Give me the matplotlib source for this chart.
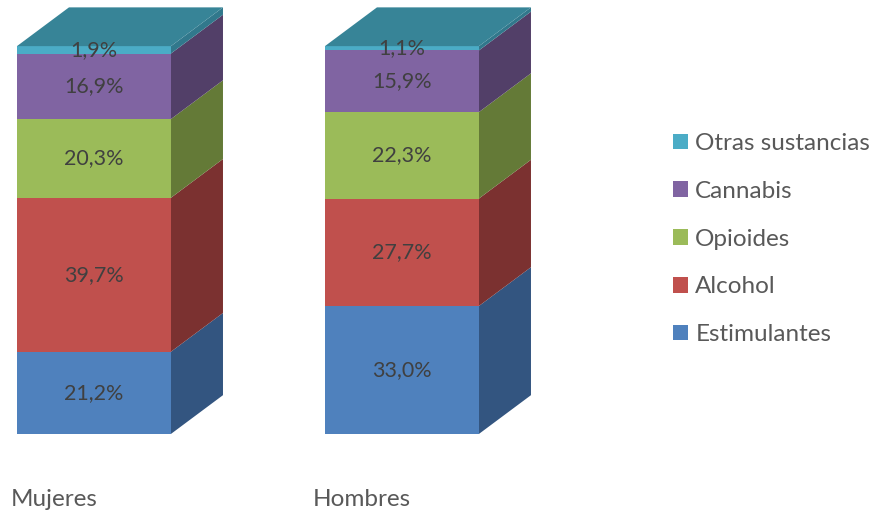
import matplotlib
matplotlib.use("Agg")
import matplotlib.pyplot as plt
from matplotlib.patches import Polygon

plt.rcParams['font.family'] = ['Lato', 'DejaVu Sans']

grupos = ['Mujeres', 'Hombres']
sustancias = ['Estimulantes', 'Alcohol', 'Opioides', 'Cannabis', 'Otras sustancias']
valores = {
    'Estimulantes': [21.2, 33.0],
    'Alcohol': [39.7, 27.7],
    'Opioides': [20.3, 22.3],
    'Cannabis': [16.9, 15.9],
    'Otras sustancias': [1.9, 1.1],
}
etiquetas = {
    'Estimulantes': ['21,2%', '33,0%'],
    'Alcohol': ['39,7%', '27,7%'],
    'Opioides': ['20,3%', '22,3%'],
    'Cannabis': ['16,9%', '15,9%'],
    'Otras sustancias': ['1,9%', '1,1%'],
}
# cara frontal, cara lateral (sombra)
colores = {
    'Estimulantes': ('#4F81BD', '#335580'),
    'Alcohol': ('#C0504D', '#7B3130'),
    'Opioides': ('#9BBB59', '#647A37'),
    'Cannabis': ('#8064A2', '#523F68'),
    'Otras sustancias': ('#4BACC6', '#31788C'),
}
color_tapa = '#378497'

ancho = 0.5
dx, dy = 0.169, 10.0  # profundidad del efecto 3D

fig = plt.figure(figsize=(8.71, 5.15), dpi=100)
ax = fig.add_axes([0, 0, 1, 1])
ax.set_xlim(-0.305, 2.523)
ax.set_ylim(-20.9, 111.9)
ax.axis('off')

xs = list(range(len(grupos)))
base = [0.0] * len(grupos)
handles = []
for s in sustancias:
    frente, lado = colores[s]
    bars = ax.bar(xs, valores[s], ancho, bottom=base, color=frente, linewidth=0, zorder=2)
    handles.append(bars)
    for i, x in enumerate(xs):
        b = base[i]
        t = b + valores[s][i]
        xr = x + ancho / 2
        ax.add_patch(Polygon([(xr, b), (xr + dx, b + dy), (xr + dx, t + dy), (xr, t)],
                             closed=True, facecolor=lado, edgecolor='none', zorder=1))
        ax.text(x, (b + t) / 2, etiquetas[s][i], ha='center', va='center',
                fontsize=15.5, color='#404040', zorder=5)
    base = [b + v for b, v in zip(base, valores[s])]

# tapa superior de cada columna
for i, x in enumerate(xs):
    xl, xr, t = x - ancho / 2, x + ancho / 2, base[i]
    ax.add_patch(Polygon([(xl, t), (xl + dx, t + dy), (xr + dx, t + dy), (xr, t)],
                         closed=True, facecolor=color_tapa, edgecolor='none', zorder=3))

# etiquetas de categoria en el suelo
for x, g in zip(xs, grupos):
    ax.text(x - 0.13, -17.0, g, ha='center', va='center', fontsize=17.5, color='#595959')

leg = ax.legend(handles[::-1], sustancias[::-1], loc='upper left',
                bbox_to_anchor=(0.748, 0.784), frameon=False, fontsize=17.5,
                handlelength=0.62, handleheight=0.62, handletextpad=0.28,
                labelspacing=1.1)
for txt in leg.get_texts():
    txt.set_color('#595959')

fig.savefig('out.png', dpi=100)
